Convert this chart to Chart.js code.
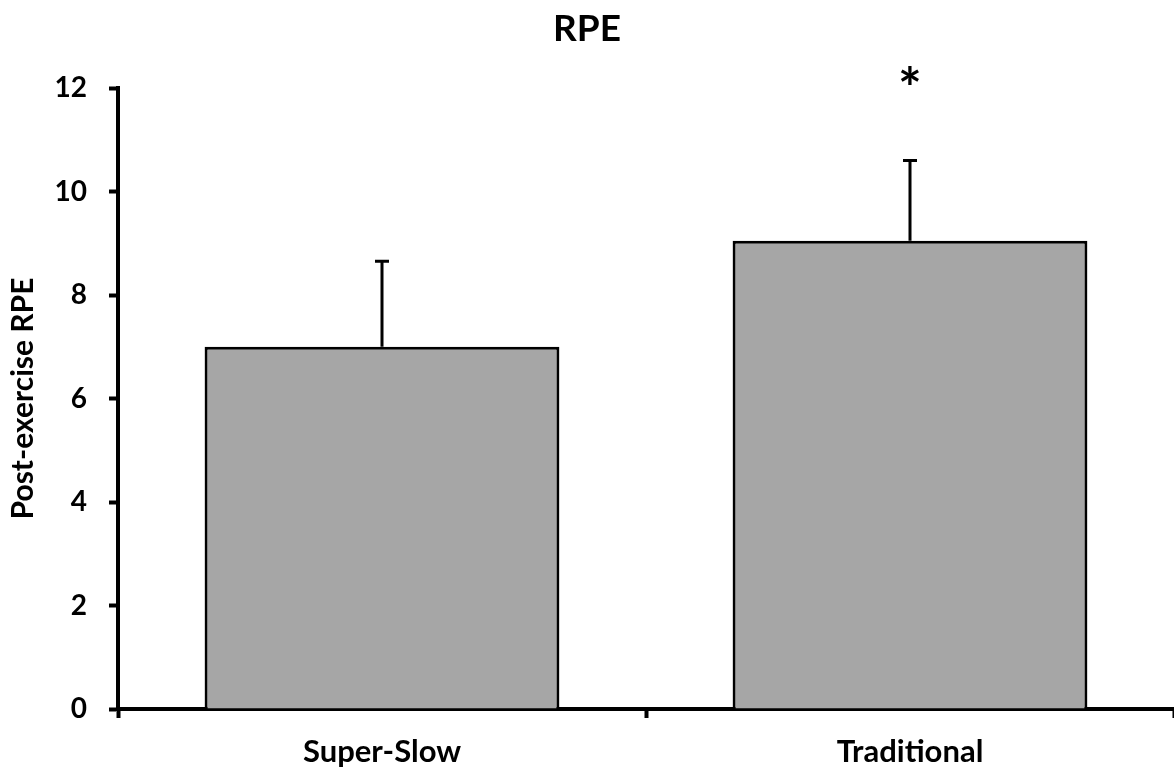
<!DOCTYPE html>
<html>
<head>
<meta charset="utf-8">
<script src="https://cdn.jsdelivr.net/npm/chart.js@4"></script>
<style>
  html, body { margin: 0; padding: 0; background: #ffffff; }
  #wrap { width: 1174px; height: 775px; position: relative; }
</style>
</head>
<body>
<div id="wrap"><canvas id="c" width="1174" height="775"></canvas></div>
<script>
// Post-exercise rating of perceived exertion, mean with upward SD bar
const categories = ['Super-Slow', 'Traditional'];
const meanRPE = [7.0, 9.05];
const sdRPE = [1.65, 1.55];
const significance = ['', '*'];
const yTicks = [0, 2, 4, 6, 8, 10, 12];

const FONT = 'Lato, "Open Sans", sans-serif';

// Upward error bars with a short cap
const errorBars = {
  id: 'errorBars',
  afterDatasetsDraw(chart) {
    const meta = chart.getDatasetMeta(0);
    const y = chart.scales.y;
    const ctx = chart.ctx;
    ctx.save();
    ctx.strokeStyle = '#000';
    ctx.lineWidth = 3;
    meta.data.forEach((bar, i) => {
      const top = y.getPixelForValue(meanRPE[i] + sdRPE[i]);
      ctx.beginPath();
      ctx.moveTo(bar.x, bar.y);
      ctx.lineTo(bar.x, top);
      ctx.moveTo(bar.x - 7, top);
      ctx.lineTo(bar.x + 7, top);
      ctx.stroke();
    });
    ctx.restore();
  }
};

// Significance marker above the plot area
const sigMarks = {
  id: 'sigMarks',
  afterDatasetsDraw(chart) {
    const meta = chart.getDatasetMeta(0);
    const ctx = chart.ctx;
    ctx.save();
    ctx.fillStyle = '#000';
    ctx.font = 'bold 56px ' + FONT;
    ctx.textAlign = 'center';
    ctx.textBaseline = 'middle';
    meta.data.forEach((bar, i) => {
      if (significance[i]) ctx.fillText(significance[i], bar.x, chart.chartArea.top + 2);
    });
    ctx.restore();
  }
};

new Chart(document.getElementById('c'), {
  type: 'bar',
  data: {
    labels: categories,
    datasets: [{
      data: meanRPE,
      backgroundColor: '#a6a6a6',
      borderColor: '#000000',
      borderWidth: 3,
      borderSkipped: 'bottom',
      barPercentage: 0.672,
      categoryPercentage: 1.0
    }]
  },
  options: {
    responsive: false,
    animation: false,
    layout: { padding: 0 },
    plugins: {
      legend: { display: false },
      tooltip: { enabled: false },
      title: {
        display: true,
        text: 'RPE',
        color: '#000',
        font: { family: FONT, size: 37, weight: 'bold', lineHeight: 1.2 },
        padding: { top: 6.5, bottom: 37.1 }
      }
    },
    scales: {
      x: {
        offset: true,
        grid: {
          offset: true,
          drawOnChartArea: false,
          drawTicks: true,
          tickLength: 9,
          tickWidth: 4,
          tickColor: '#000',
          color: '#000'
        },
        border: { display: true, color: '#000', width: 4 },
        ticks: {
          color: '#000',
          padding: 15,
          font: { family: FONT, size: 31, weight: 'bold' }
        },
        afterFit(scale) { scale.height = 66; }
      },
      y: {
        min: 0,
        max: 12,
        afterBuildTicks(scale) { scale.ticks = yTicks.map(v => ({ value: v })); },
        grid: {
          drawOnChartArea: false,
          drawTicks: true,
          tickLength: 9,
          tickWidth: 4,
          tickColor: '#000',
          color: '#000'
        },
        border: { display: true, color: '#000', width: 4 },
        ticks: {
          color: '#000',
          padding: 22,
          font: { family: FONT, size: 28, weight: 'bold' }
        },
        title: {
          display: true,
          text: 'Post-exercise RPE',
          color: '#000',
          font: { family: FONT, size: 30, weight: 'bold', lineHeight: 1.2 },
          padding: { top: 5, bottom: 0 }
        },
        afterFit(scale) { scale.width = 118; }
      }
    }
  },
  plugins: [errorBars, sigMarks]
});
</script>
</body>
</html>
